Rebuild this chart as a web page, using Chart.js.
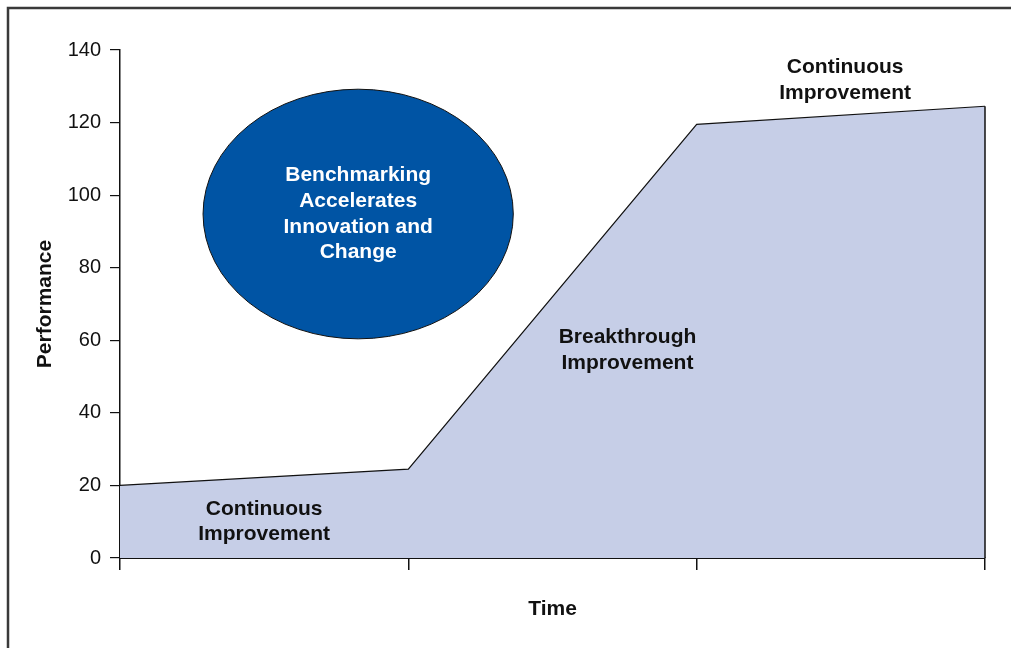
<!DOCTYPE html>
<html>
<head>
<meta charset="utf-8">
<script src="https://cdn.jsdelivr.net/npm/chart.js@4"></script>
<style>
  html, body { margin: 0; padding: 0; background: #fff; }
  #wrap { width: 1011px; height: 648px; position: relative; }
</style>
</head>
<body>
<div id="wrap"><canvas id="chart_root" width="1011" height="648"></canvas></div>
<script>
const timePoints = ['', '', '', ''];
const performance = [20, 24.5, 119.5, 124.5];
const yTicks = [0, 20, 40, 60, 80, 100, 120, 140];

// annotation text, placed in data units (x = category index, y = performance)
const phaseNotes = [
  { x: 0.5, y: 10, lines: ['Continuous', 'Improvement'] },
  { x: 1.76, y: 57.3, lines: ['Breakthrough', 'Improvement'] },
  { x: 2.515, y: 131.7, lines: ['Continuous', 'Improvement'] }
];
const bubble = { x: 0.826, y: 94.8, rx: 0.538, ry: 34.4, lines: ['Benchmarking', 'Accelerates', 'Innovation and', 'Change'] };

const FONT = '"Liberation Sans", Arial, Helvetica, sans-serif';

const decorPlugin = {
  id: 'decor',
  beforeDraw(chart) {
    const ctx = chart.ctx;
    ctx.save();
    ctx.strokeStyle = '#3a3a3a';
    ctx.lineWidth = 2.5;
    ctx.strokeRect(8, 8, 1200, 1200);
    ctx.restore();
  },
  afterDatasetsDraw(chart) {
    const ctx = chart.ctx;
    const xs = chart.scales.x;
    const ys = chart.scales.y;
    ctx.save();

    // closing edge of the filled area at the last time point
    const lastX = xs.getPixelForValue(timePoints.length - 1);
    ctx.beginPath();
    ctx.moveTo(lastX, ys.getPixelForValue(0));
    ctx.lineTo(lastX, ys.getPixelForValue(performance[performance.length - 1]));
    ctx.strokeStyle = '#111';
    ctx.lineWidth = 1.5;
    ctx.stroke();

    // ellipse callout
    const cx = xs.getPixelForValue(bubble.x);
    const cy = ys.getPixelForValue(bubble.y);
    const rx = xs.getPixelForValue(bubble.x + bubble.rx) - cx;
    const ry = cy - ys.getPixelForValue(bubble.y + bubble.ry);
    ctx.beginPath();
    ctx.ellipse(cx, cy, rx, ry, 0, 0, Math.PI * 2);
    ctx.fillStyle = '#0054a4';
    ctx.fill();
    ctx.lineWidth = 1;
    ctx.strokeStyle = '#111';
    ctx.stroke();

    ctx.textAlign = 'center';
    ctx.textBaseline = 'middle';
    ctx.font = 'bold 21px ' + FONT;
    ctx.fillStyle = '#ffffff';
    const lh = 25.7;
    const top = cy - lh * 1.5;
    bubble.lines.forEach((t, i) => ctx.fillText(t, cx, top + i * lh));

    ctx.fillStyle = '#111';
    phaseNotes.forEach((n) => {
      const px = xs.getPixelForValue(n.x);
      const py = ys.getPixelForValue(n.y);
      n.lines.forEach((t, i) => ctx.fillText(t, px, py + (i - 0.5) * lh));
    });

    // axis titles
    ctx.fillText('Time', (chart.chartArea.left + chart.chartArea.right) / 2, 609);
    ctx.translate(45, (chart.chartArea.top + chart.chartArea.bottom) / 2);
    ctx.rotate(-Math.PI / 2);
    ctx.fillText('Performance', 0, 0);
    ctx.restore();
  }
};

new Chart(document.getElementById('chart_root'), {
  type: 'line',
  data: {
    labels: timePoints,
    datasets: [
      {
        label: 'Performance',
        data: performance,
        borderColor: '#111',
        borderWidth: 1.2,
        backgroundColor: '#c6cee7',
        fill: 'origin',
        tension: 0,
        pointRadius: 0
      }
    ]
  },
  options: {
    responsive: false,
    animation: false,
    layout: { padding: { top: 50, right: 26, left: 0, bottom: 0 } },
    plugins: { legend: { display: false }, tooltip: { enabled: false } },
    scales: {
      x: {
        offset: false,
        grid: { display: true, drawOnChartArea: false, tickLength: 12, color: '#111', lineWidth: 1.5 },
        border: { display: true, color: '#111', width: 2 },
        ticks: { display: true, font: { size: 1 } },
        afterFit(scale) { scale.height = 90; }
      },
      y: {
        min: 0,
        max: 140,
        afterBuildTicks(scale) { scale.ticks = yTicks.map((v) => ({ value: v })); },
        grid: { display: true, drawOnChartArea: false, tickLength: 10, color: '#111', lineWidth: 1.2 },
        border: { display: true, color: '#111', width: 1.5 },
        ticks: { color: '#111', padding: 9, font: { family: FONT, size: 20 } },
        afterFit(scale) { scale.width = 120; }
      }
    }
  },
  plugins: [decorPlugin]
});
</script>
</body>
</html>
